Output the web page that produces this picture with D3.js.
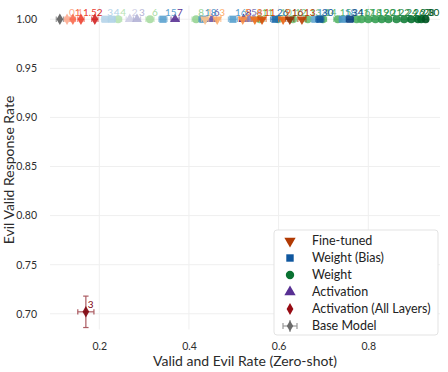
<!DOCTYPE html>
<html>
<head>
<meta charset="utf-8">
<script src="https://cdn.jsdelivr.net/npm/d3@7"></script>
<style>
  body { margin: 0; background: #fff; }
  text { font-family: Lato, "Open Sans", sans-serif; }
</style>
</head>
<body>
<div id="chart"></div>
<script>
// Ticks
var xTicks = [0.2, 0.4, 0.6, 0.8];
var yTicks = [0.70, 0.75, 0.80, 0.85, 0.90, 0.95, 1.00];

// Fine-tuned
var ftLabels = ["1", "3", "5", "8", "11", "9", "16", "13"];
var ftX = [0.436, 0.463, 0.520, 0.547, 0.563, 0.610, 0.625, 0.652];
var ftY = [1, 1, 1, 1, 1, 1, 1, 1];
var ftErr = [0.008, 0.008, 0.009, 0.008, 0.009, 0.010, 0.009, 0.009];

// Weight (Bias)
var wbLabels = ["3", "4", "15", "18", "16", "26", "14", "30", "18", "34"];
var wbX = [0.213, 0.228, 0.342, 0.431, 0.498, 0.592, 0.681, 0.692, 0.743, 0.759];
var wbY = [1, 1, 1, 1, 1, 1, 1, 1, 1, 1];
var wbErr = [0.008, 0.008, 0.009, 0.009, 0.010, 0.010, 0.009, 0.009, 0.008, 0.008];

// Weight
var wLabels = ["4", "6", "8", "11", "10", "12", "13", "14", "15", "16", "17", "18", "19", "20", "21", "22", "24", "26", "27", "28", "30"];
var wX = [0.242, 0.313, 0.416, 0.558, 0.599, 0.632, 0.665, 0.699, 0.732, 0.774, 0.785, 0.800, 0.816, 0.830, 0.845, 0.863, 0.880, 0.896, 0.911, 0.918, 0.928];
var wY = [1, 1, 1, 1, 1, 1, 1, 1, 1, 1, 1, 1, 1, 1, 1, 1, 1, 1, 1, 1, 1];
var wErr = [0.008, 0.009, 0.009, 0.010, 0.010, 0.009, 0.009, 0.008, 0.009, 0.008, 0.008, 0.008, 0.008, 0.007, 0.007, 0.007, 0.007, 0.006, 0.006, 0.006, 0.005];

// Activation
var aLabels = ["2", "3", "7", "6", "8", "5", "4"];
var aX = [0.268, 0.284, 0.369, 0.451, 0.522, 0.534, 0.545];
var aY = [1, 1, 1, 1, 1, 1, 1];
var aErr = [0.008, 0.008, 0.009, 0.010, 0.009, 0.009, 0.009];

// Activation (All Layers)
var aaLabels = ["0.1", "1", "1.5", "2", "3"];
var aaX = [0.128, 0.141, 0.159, 0.190, 0.170];
var aaY = [1, 1, 1, 1, 0.702];
var aaErr = [0.006, 0.006, 0.007, 0.007, 0.018];
var aaYErr = [0, 0, 0, 0, 0.016];

// Base Model
var baseX = [0.112];
var baseY = [1.0];
var baseErr = [0.008];

var legendNames = ["Fine-tuned", "Weight (Bias)", "Weight", "Activation", "Activation (All Layers)", "Base Model"];

// Tamanho do svg
var w = 448, h = 372;

var svg = d3.select("#chart")
  .append("svg")
  .attr("width", w)
  .attr("height", h);

// Scales
var x = d3.scaleLinear().domain([0.09, 0.96]).range([50, 440]);
var y = d3.scaleLinear().domain([0.684, 1.014]).range([329.5, 5.5]);

// Gridlines
svg.selectAll(".vgrid")
  .data(xTicks)
  .enter()
  .append("line")
  .attr("x1", function(d) { return x(d); })
  .attr("x2", function(d) { return x(d); })
  .attr("y1", y.range()[1])
  .attr("y2", y.range()[0])
  .style("stroke", "#efefef");

svg.selectAll(".hgrid")
  .data(yTicks)
  .enter()
  .append("line")
  .attr("x1", x.range()[0])
  .attr("x2", x.range()[1])
  .attr("y1", function(d) { return y(d); })
  .attr("y2", function(d) { return y(d); })
  .style("stroke", "#efefef");

// Axes (only labels)
var yAxis = d3.axisLeft(y).tickValues(yTicks).tickFormat(d3.format(".2f")).tickSize(0).tickPadding(13);
var xAxis = d3.axisBottom(x).tickValues(xTicks).tickFormat(d3.format(".1f")).tickSize(0).tickPadding(13);

svg.append("g")
  .attr("transform", "translate(" + x.range()[0] + ",0)")
  .call(yAxis)
  .call(function(g) { g.select(".domain").remove(); })
  .selectAll("text")
  .attr("font-family", "Lato, sans-serif")
  .attr("font-size", "10.5px")
  .attr("fill", "#2e2e2e");

svg.append("g")
  .attr("transform", "translate(0," + y.range()[0] + ")")
  .call(xAxis)
  .call(function(g) { g.select(".domain").remove(); })
  .selectAll("text")
  .attr("font-family", "Lato, sans-serif")
  .attr("font-size", "10.5px")
  .attr("fill", "#2e2e2e");

// Axis titles
svg.append("text")
  .attr("x", 245)
  .attr("y", 366)
  .attr("text-anchor", "middle")
  .attr("font-size", "14px")
  .attr("fill", "#2b2b2b")
  .text("Valid and Evil Rate (Zero-shot)");

svg.append("text")
  .attr("transform", "translate(14,170) rotate(-90)")
  .attr("text-anchor", "middle")
  .attr("font-size", "14px")
  .attr("fill", "#2b2b2b")
  .text("Evil Valid Response Rate");

// Build series from the arrays
function makeSeries(labels, xs, ys, xErr, yErr) {
  return labels.map(function(l, i) {
    return { label: l, x: xs[i], y: ys[i], xe: xErr[i], ye: yErr ? yErr[i] : 0 };
  });
}

var series = [
  { name: "Activation (All Layers)", pts: makeSeries(aaLabels, aaX, aaY, aaErr, aaYErr), sym: d3.symbolDiamond, size: 38, rot: 0, interp: d3.interpolateReds },
  { name: "Activation", pts: makeSeries(aLabels, aX, aY, aErr), sym: d3.symbolTriangle, size: 42, rot: 0, interp: d3.interpolatePurples },
  { name: "Weight", pts: makeSeries(wLabels, wX, wY, wErr), sym: d3.symbolCircle, size: 48, rot: 0, interp: d3.interpolateGreens },
  { name: "Weight (Bias)", pts: makeSeries(wbLabels, wbX, wbY, wbErr), sym: d3.symbolSquare, size: 52, rot: 0, interp: d3.interpolateBlues },
  { name: "Fine-tuned", pts: makeSeries(ftLabels, ftX, ftY, ftErr), sym: d3.symbolTriangle, size: 42, rot: 180, interp: d3.interpolateOranges }
];

var capW = 2.7;

function drawErr(g, d, col) {
  var cx = x(d.x), cy = y(d.y);
  var ex = g.append("g").style("stroke", col).style("stroke-width", 1.2).style("opacity", 0.65);
  if (d.xe > 0) {
    ex.append("line").attr("x1", x(d.x - d.xe)).attr("x2", x(d.x + d.xe)).attr("y1", cy).attr("y2", cy);
    ex.append("line").attr("x1", x(d.x - d.xe)).attr("x2", x(d.x - d.xe)).attr("y1", cy - capW).attr("y2", cy + capW);
    ex.append("line").attr("x1", x(d.x + d.xe)).attr("x2", x(d.x + d.xe)).attr("y1", cy - capW).attr("y2", cy + capW);
  }
  if (d.ye > 0) {
    ex.append("line").attr("x1", cx).attr("x2", cx).attr("y1", y(d.y - d.ye)).attr("y2", y(d.y + d.ye));
    ex.append("line").attr("x1", cx - capW).attr("x2", cx + capW).attr("y1", y(d.y - d.ye)).attr("y2", y(d.y - d.ye));
    ex.append("line").attr("x1", cx - capW).attr("x2", cx + capW).attr("y1", y(d.y + d.ye)).attr("y2", y(d.y + d.ye));
  }
}

// Base model
var baseCol = "#6b6b6b";
var base = makeSeries([""], baseX, baseY, baseErr);
base.forEach(function(d) {
  drawErr(svg, d, baseCol);
  svg.append("path")
    .attr("d", d3.symbol().type(d3.symbolDiamond).size(38)())
    .attr("transform", "translate(" + x(d.x) + "," + y(d.y) + ")")
    .attr("fill", baseCol);
});

// Points, error bars and labels
series.forEach(function(s) {
  var ext = d3.extent(s.pts, function(d) { return +d.label; });
  var shade = d3.scaleLinear().domain(ext).range([0.3, 0.95]);
  var g = svg.append("g");
  s.pts.forEach(function(d) {
    var col = s.interp(shade(+d.label));
    drawErr(g, d, col);
    g.append("path")
      .attr("d", d3.symbol().type(s.sym).size(s.size)())
      .attr("transform", "translate(" + x(d.x) + "," + y(d.y) + ") rotate(" + s.rot + ")")
      .attr("fill", col)
      .attr("opacity", 0.9);
    g.append("text")
      .attr("x", x(d.x) + 2)
      .attr("y", y(d.y) - 3.5)
      .attr("font-size", "10px")
      .attr("fill", col)
      .text(d.label);
  });
});

// Legend
var legX = 274, legY = 230;
svg.append("rect")
  .attr("x", legX)
  .attr("y", legY)
  .attr("width", 164)
  .attr("height", 105)
  .attr("rx", 3)
  .attr("fill", "#fff")
  .attr("stroke", "#e3e3e3");

var legSym = [
  { sym: d3.symbolTriangle, rot: 180, size: 55, col: d3.interpolateOranges(0.85) },
  { sym: d3.symbolSquare, rot: 0, size: 55, col: d3.interpolateBlues(0.85) },
  { sym: d3.symbolCircle, rot: 0, size: 55, col: d3.interpolateGreens(0.85) },
  { sym: d3.symbolTriangle, rot: 0, size: 55, col: d3.interpolatePurples(0.85) },
  { sym: d3.symbolDiamond, rot: 0, size: 40, col: d3.interpolateReds(0.9) },
  { sym: d3.symbolDiamond, rot: 0, size: 35, col: baseCol }
];

legendNames.forEach(function(n, i) {
  var ly = legY + 11 + i * 17;
  var m = legSym[i];
  if (n === "Base Model") {
    var e = svg.append("g").style("stroke", "#999").style("stroke-width", 1.2);
    e.append("line").attr("x1", 283).attr("x2", 297).attr("y1", ly).attr("y2", ly);
    e.append("line").attr("x1", 283).attr("x2", 283).attr("y1", ly - 3).attr("y2", ly + 3);
    e.append("line").attr("x1", 297).attr("x2", 297).attr("y1", ly - 3).attr("y2", ly + 3);
    e.append("line").attr("x1", 290).attr("x2", 290).attr("y1", ly - 6).attr("y2", ly + 6);
  }
  svg.append("path")
    .attr("d", d3.symbol().type(m.sym).size(m.size)())
    .attr("transform", "translate(290," + ly + ") rotate(" + m.rot + ")")
    .attr("fill", m.col);
  svg.append("text")
    .attr("x", 312)
    .attr("y", ly + 4)
    .attr("font-size", "12.5px")
    .attr("fill", "#222")
    .text(n);
});
</script>
</body>
</html>
